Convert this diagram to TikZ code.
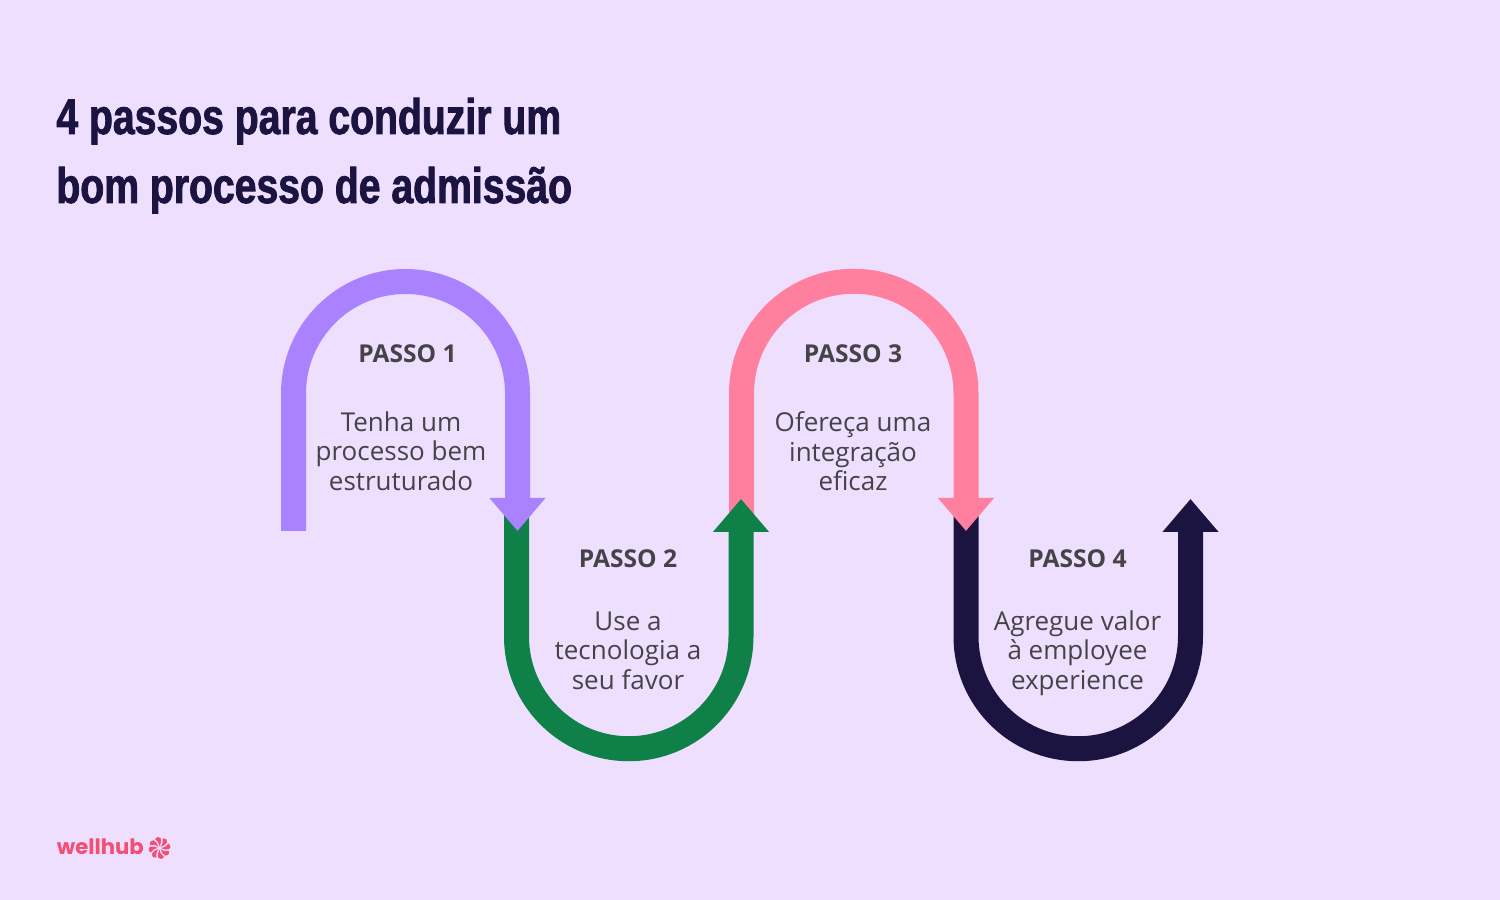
\documentclass[tikz,border=0pt]{standalone}
\usepackage{fontspec}
\setmainfont{Open Sans}
\newfontfamily\titlefont[FakeStretch=0.783,FakeBold=1.6]{Liberation Sans Bold}
\newfontfamily\logofont{Poppins Bold}
\usetikzlibrary{calc,arrows.meta,positioning}
\definecolor{bgc}{HTML}{EEDFFF}
\definecolor{roxo}{HTML}{AA82FF}
\definecolor{verde}{HTML}{0E8048}
\definecolor{rosa}{HTML}{FF7F9E}
\definecolor{marinho}{HTML}{1B1340}
\definecolor{cinza}{HTML}{454347}
\definecolor{logoc}{HTML}{F64D74}
\begin{document}
\begin{tikzpicture}[x=0.5pt,y=0.5pt]
	\tikzstyle{curve}=[line width=12.5pt,-{Triangle[length=16.5pt,width=27pt,sep=0pt]}]
	\tikzstyle{titlenode}=[inner sep=0pt,anchor=base west,text=marinho,font=\titlefont\fontsize{25}{25}\selectfont]
	\tikzstyle{headnode}=[inner sep=0pt,text=cinza,font=\fontsize{12.3}{14}\selectfont\bfseries]
	\tikzstyle{bodynode}=[inner sep=0pt,text=cinza,align=center,font=\fontsize{13}{14.75}\selectfont]
	\fill[bgc] (0,0) rectangle (1500,900);
	\useasboundingbox (0,0) rectangle (1500,900);
	% title
	\node[titlenode] (title1) at (56,766) {4 passos para conduzir um};
	\node[titlenode] (title2) at (56,697) {bom processo de admiss\~ao};
	% end points of the curves
	\coordinate (a0) at (293.5,369);
	\coordinate (a1) at (293.5,506.5);
	\coordinate (a2) at (517.5,369);
	\coordinate (b0) at (516.5,385);
	\coordinate (b1) at (516.5,263.5);
	\coordinate (b2) at (741,401);
	\coordinate (c0) at (741.5,385);
	\coordinate (c1) at (741.5,506.5);
	\coordinate (c2) at (966,369);
	\coordinate (d0) at (966,385);
	\coordinate (d1) at (966,263.5);
	\coordinate (d2) at (1190.5,401);
	% later curves lie under earlier ones
	\draw[curve,marinho] (d0) -- (d1) arc[start angle=180,end angle=360,radius=112.25] -- (d2);
	\draw[curve,rosa] (c0) -- (c1) arc[start angle=180,end angle=0,radius=112.25] -- (c2);
	\draw[curve,verde] (b0) -- (b1) arc[start angle=180,end angle=360,radius=112.25] -- (b2);
	\draw[curve,roxo] (a0) -- (a1) arc[start angle=180,end angle=0,radius=112] -- (a2);
	% texts
	\node[headnode] (passo1) at (407.5,546.5) {PASSO 1};
	\node[bodynode,below=24.2pt of passo1.south,xshift=-3.25pt] (texto1) {Tenha um\\processo bem\\estruturado};
	\node[headnode] (passo2) at (628,341.5) {PASSO 2};
	\node[bodynode,below=21.7pt of passo2.south] (texto2) {Use a\\tecnologia a\\seu favor};
	\node[headnode] (passo3) at (853,546.5) {PASSO 3};
	\node[bodynode,below=24.2pt of passo3.south] (texto3) {Ofere\c{c}a uma\\integra\c{c}\~ao\\eficaz};
	\node[headnode] (passo4) at (1077.5,341.5) {PASSO 4};
	\node[bodynode,below=21pt of passo4.south] (texto4) {Agregue valor\\\`a employee\\experience};
	% logo
	\node[inner sep=0pt,anchor=base west,text=logoc,font=\logofont\fontsize{10.6}{10.6}\selectfont] (logo) at (56.5,45) {wellhub};
	\foreach \a in {0,45,...,315}
		\fill[logoc,shift={(159.5,52)},rotate=\a] (1.5,0) .. controls (5,0.5) and (7.5,2) .. (9,4.5) .. controls (11.5,2.5) and (11.5,-0.5) .. (9.5,-1.3) .. controls (7.5,-2) and (4,-1.5) .. cycle;
\end{tikzpicture}
\end{document}
